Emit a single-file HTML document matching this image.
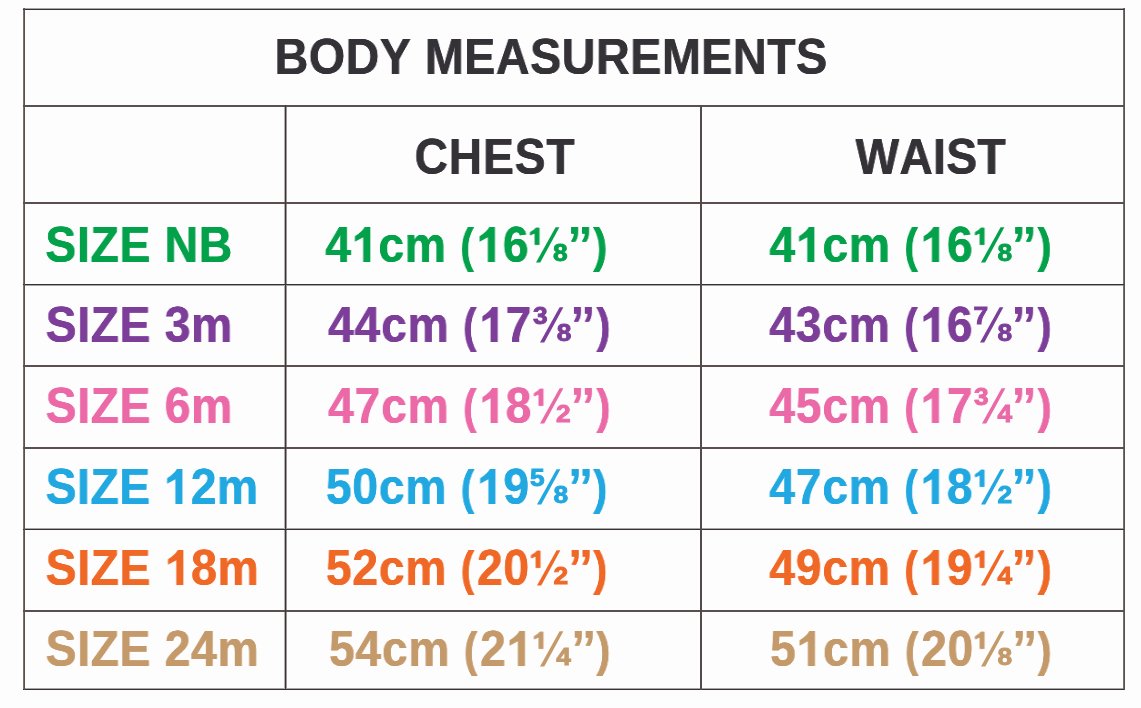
<!DOCTYPE html>
<html><head><meta charset="utf-8"><title>Body Measurements</title><style>
html,body{margin:0;padding:0;}
body{width:1141px;height:708px;background:#fdfdfe;position:relative;overflow:hidden;font-family:"Liberation Sans",sans-serif;font-weight:bold;font-kerning:none;}
.t{position:absolute;white-space:nowrap;line-height:1;transform-origin:0 0;will-change:transform;}
.l{position:absolute;}
.one{position:relative;display:inline-block;}
.one::before,.one::after{content:"";position:absolute;background:#fdfdfe;top:0.70em;height:0.26em;}
.one::before{left:0.03em;width:calc(0.2034em - var(--sw,0px)/2);}
.one::after{left:calc(0.3706em + var(--sw,0px)/2);width:0.2em;}
.ib{display:inline-block;}
.o1{display:inline-block;position:relative;width:calc(0.55615em + var(--ls,0px));height:0.68799em;}
.o1 svg{position:absolute;left:0;bottom:0;width:0.55615em;height:0.68799em;fill:currentColor;overflow:visible;}
.np{-webkit-text-stroke-width:0;}
</style></head><body>

<div class="l" style="left:23px;width:1102px;top:8px;height:1px;background:#aaa6a7"></div>
<div class="l" style="left:23px;width:1102px;top:285px;height:1px;background:#aaa6a7"></div>
<div class="l" style="left:23px;width:1102px;top:528px;height:1px;background:#aaa6a7"></div>
<div class="l" style="left:23px;width:1102px;top:688px;height:1px;background:#aaa6a7"></div>
<div class="l" style="left:23px;width:1px;top:8px;height:682px;background:#7d7170"></div>
<div class="l" style="left:284px;width:1px;top:105px;height:585px;background:#b4aeae"></div>
<div class="l" style="left:286px;width:1px;top:105px;height:585px;background:#9a9494"></div>
<div class="l" style="left:1123px;width:1px;top:8px;height:682px;background:#7a6e6e"></div>
<div class="l" style="left:23px;width:1102px;top:9px;height:1px;background:#353134"></div>
<div class="l" style="left:23px;width:1102px;top:105px;height:1px;background:#5a4f4e"></div>
<div class="l" style="left:23px;width:1102px;top:106px;height:1px;background:#5a4f4e"></div>
<div class="l" style="left:23px;width:1102px;top:202px;height:1px;background:#5a4f4e"></div>
<div class="l" style="left:23px;width:1102px;top:203px;height:1px;background:#5a4f4e"></div>
<div class="l" style="left:23px;width:1102px;top:284px;height:1px;background:#353134"></div>
<div class="l" style="left:23px;width:1102px;top:365px;height:1px;background:#5a4f4e"></div>
<div class="l" style="left:23px;width:1102px;top:366px;height:1px;background:#5a4f4e"></div>
<div class="l" style="left:23px;width:1102px;top:447px;height:1px;background:#5a4f4e"></div>
<div class="l" style="left:23px;width:1102px;top:448px;height:1px;background:#5a4f4e"></div>
<div class="l" style="left:23px;width:1102px;top:529px;height:1px;background:#353134"></div>
<div class="l" style="left:23px;width:1102px;top:610px;height:1px;background:#5a4f4e"></div>
<div class="l" style="left:23px;width:1102px;top:611px;height:1px;background:#5a4f4e"></div>
<div class="l" style="left:23px;width:1102px;top:689px;height:1px;background:#353134"></div>
<div class="l" style="left:24px;width:1px;top:8px;height:682px;background:#5a504e"></div>
<div class="l" style="left:285px;width:1px;top:105px;height:585px;background:#3a3536"></div>
<div class="l" style="left:700px;width:1px;top:105px;height:585px;background:#544a4b"></div>
<div class="l" style="left:701px;width:1px;top:105px;height:585px;background:#544a4b"></div>
<div class="l" style="left:1124px;width:1px;top:8px;height:682px;background:#5a504e"></div>
<div class="t" style="left:274px;top:31.88px;font-size:50.58px;letter-spacing:0.463px;color:#343237;transform:translateX(0.520px) scaleX(0.9250);text-shadow:-0.270px 0 0 #343237,0.270px 0 0 #343237;--sw:0.55px;--ls:0.463px">BODY MEASUREMENTS</div>
<div class="t" style="left:414px;top:131.74px;font-size:50.87px;letter-spacing:0.851px;color:#343237;transform:translateX(0.551px) scaleX(0.9100);text-shadow:-0.275px 0 0 #343237,0.275px 0 0 #343237;--sw:0.55px;--ls:0.851px">CHEST</div>
<div class="t" style="left:855px;top:131.64px;font-size:50.87px;letter-spacing:0.274px;color:#343237;transform:translateX(0.505px) scaleX(0.9100);text-shadow:-0.275px 0 0 #343237,0.275px 0 0 #343237;--sw:0.55px;--ls:0.274px">WAIST</div>
<div class="t" style="left:45px;top:219.84px;font-size:50.87px;letter-spacing:0.790px;color:#04a14b;transform:translateX(0.316px) scaleX(0.9100);text-shadow:-0.275px 0 0 #04a14b,0.275px 0 0 #04a14b;--sw:0.55px;--ls:0.790px">SIZE NB</div>
<div class="t" style="left:45px;top:299.94px;font-size:50.87px;letter-spacing:0.739px;color:#7c3e98;transform:translateX(0.616px) scaleX(0.9100);text-shadow:-0.275px 0 0 #7c3e98,0.275px 0 0 #7c3e98;--sw:0.55px;--ls:0.739px">SIZE 3m</div>
<div class="t" style="left:45px;top:380.74px;font-size:50.87px;letter-spacing:0.739px;color:#ea69a6;transform:translateX(0.616px) scaleX(0.9100);text-shadow:-0.275px 0 0 #ea69a6,0.275px 0 0 #ea69a6;--sw:0.55px;--ls:0.739px">SIZE 6m</div>
<div class="t" style="left:45px;top:461.74px;font-size:50.87px;letter-spacing:0.658px;color:#22a8e0;transform:translateX(0.616px) scaleX(0.9100);text-shadow:-0.275px 0 0 #22a8e0,0.275px 0 0 #22a8e0;--sw:0.55px;--ls:0.658px">SIZE <span class="o1"><svg viewBox="0 0 1139 1409" preserveAspectRatio="none"><path d="M505,1409L505,415L140,598L140,368Q485,176 569,0L820,0L820,1409Z"/></svg></span>2m</div>
<div class="t" style="left:45px;top:542.74px;font-size:50.87px;letter-spacing:0.736px;color:#f06826;transform:translateX(0.616px) scaleX(0.9100);text-shadow:-0.275px 0 0 #f06826,0.275px 0 0 #f06826;--sw:0.55px;--ls:0.736px">SIZE <span class="o1"><svg viewBox="0 0 1139 1409" preserveAspectRatio="none"><path d="M505,1409L505,415L140,598L140,368Q485,176 569,0L820,0L820,1409Z"/></svg></span>8m</div>
<div class="t" style="left:45px;top:623.54px;font-size:50.87px;letter-spacing:0.736px;color:#c59a6b;transform:translateX(0.616px) scaleX(0.9100);text-shadow:-0.275px 0 0 #c59a6b,0.275px 0 0 #c59a6b;--sw:0.55px;--ls:0.736px">SIZE 24m</div>
<div class="t" style="left:325px;top:219.84px;font-size:50.87px;letter-spacing:0.800px;color:#04a14b;transform:translateX(0.349px) scaleX(0.9100);text-shadow:-0.275px 0 0 #04a14b,0.275px 0 0 #04a14b;--sw:0.55px;--ls:0.800px">4<span class="o1"><svg viewBox="0 0 1139 1409" preserveAspectRatio="none"><path d="M505,1409L505,415L140,598L140,368Q485,176 569,0L820,0L820,1409Z"/></svg></span>cm <span class="ib np" style="transform:scale(0.880,0.949);transform-origin:2.534px 39.902px">(</span><span class="o1"><svg viewBox="0 0 1139 1409" preserveAspectRatio="none"><path d="M505,1409L505,415L140,598L140,368Q485,176 569,0L820,0L820,1409Z"/></svg></span>6<span class="ib" style="width:42.590px"></span><span class="ib" style="width:12.088px">’</span>’<span class="ib np" style="transform:translateX(-0.944px) scale(0.920,0.949);transform-origin:14.407px 39.902px">)</span></div>
<div class="t" style="left:528px;top:224.60px;font-size:24.10px;color:#04a14b;transform:translateX(0.583px) scaleX(1.092);-webkit-text-stroke:0.90px #04a14b;--sw:0.9px"><span class="o1"><svg viewBox="0 0 1139 1409" preserveAspectRatio="none"><path d="M505,1409L505,415L140,598L140,368Q485,176 569,0L820,0L820,1409Z" stroke="currentColor" stroke-width="75" stroke-linejoin="miter"/></svg></span></div>
<div class="t" style="left:552px;top:241.30px;font-size:24.10px;color:#04a14b;transform:translateX(0.956px) scaleX(1.092);-webkit-text-stroke:0.90px #04a14b">8</div>
<svg style="position:absolute;left:535.40px;top:225.90px;overflow:visible" width="30" height="40"><polygon points="1.00,36.60 5.25,36.60 24.40,1.20 20.60,1.20" fill="#04a14b"/></svg>
<div class="t" style="left:328px;top:299.84px;font-size:50.87px;letter-spacing:0.800px;color:#7c3e98;transform:translateX(0.149px) scaleX(0.9100);text-shadow:-0.275px 0 0 #7c3e98,0.275px 0 0 #7c3e98;--sw:0.55px;--ls:0.800px">44cm <span class="ib np" style="transform:scale(0.880,0.949);transform-origin:2.534px 39.902px">(</span><span class="o1"><svg viewBox="0 0 1139 1409" preserveAspectRatio="none"><path d="M505,1409L505,415L140,598L140,368Q485,176 569,0L820,0L820,1409Z"/></svg></span>7<span class="ib" style="width:42.590px"></span><span class="ib" style="width:12.088px">’</span>’<span class="ib np" style="transform:translateX(-0.504px) scale(0.920,0.949);transform-origin:14.407px 39.902px">)</span></div>
<div class="t" style="left:532px;top:304.40px;font-size:24.10px;color:#7c3e98;transform:translateX(0.887px) scaleX(1.092);-webkit-text-stroke:0.90px #7c3e98;--sw:0.9px">3</div>
<div class="t" style="left:556px;top:321.30px;font-size:24.10px;color:#7c3e98;transform:translateX(0.856px) scaleX(1.092);-webkit-text-stroke:0.90px #7c3e98">8</div>
<svg style="position:absolute;left:539.10px;top:305.90px;overflow:visible" width="30" height="40"><polygon points="1.00,36.60 5.25,36.60 24.40,1.20 20.60,1.20" fill="#7c3e98"/></svg>
<div class="t" style="left:328px;top:380.74px;font-size:50.87px;letter-spacing:0.800px;color:#ea69a6;transform:translateX(0.149px) scaleX(0.9100);text-shadow:-0.275px 0 0 #ea69a6,0.275px 0 0 #ea69a6;--sw:0.55px;--ls:0.800px">47cm <span class="ib np" style="transform:scale(0.880,0.949);transform-origin:2.534px 39.902px">(</span><span class="o1"><svg viewBox="0 0 1139 1409" preserveAspectRatio="none"><path d="M505,1409L505,415L140,598L140,368Q485,176 569,0L820,0L820,1409Z"/></svg></span>8<span class="ib" style="width:42.590px"></span><span class="ib" style="width:12.088px">’</span>’<span class="ib np" style="transform:translateX(-0.504px) scale(0.920,0.949);transform-origin:14.407px 39.902px">)</span></div>
<div class="t" style="left:532px;top:385.50px;font-size:24.10px;color:#ea69a6;transform:translateX(0.483px) scaleX(1.092);-webkit-text-stroke:0.90px #ea69a6;--sw:0.9px"><span class="o1"><svg viewBox="0 0 1139 1409" preserveAspectRatio="none"><path d="M505,1409L505,415L140,598L140,368Q485,176 569,0L820,0L820,1409Z" stroke="currentColor" stroke-width="75" stroke-linejoin="miter"/></svg></span></div>
<div class="t" style="left:556px;top:402.20px;font-size:24.10px;color:#ea69a6;transform:translateX(0.079px) scaleX(1.092);-webkit-text-stroke:0.90px #ea69a6">2</div>
<svg style="position:absolute;left:539.30px;top:386.80px;overflow:visible" width="30" height="40"><polygon points="1.00,36.60 5.25,36.60 24.40,1.20 20.60,1.20" fill="#ea69a6"/></svg>
<div class="t" style="left:325px;top:461.74px;font-size:50.87px;letter-spacing:0.800px;color:#22a8e0;transform:translateX(0.876px) scaleX(0.9100);text-shadow:-0.275px 0 0 #22a8e0,0.275px 0 0 #22a8e0;--sw:0.55px;--ls:0.800px">50cm <span class="ib np" style="transform:scale(0.880,0.949);transform-origin:2.534px 39.902px">(</span><span class="o1"><svg viewBox="0 0 1139 1409" preserveAspectRatio="none"><path d="M505,1409L505,415L140,598L140,368Q485,176 569,0L820,0L820,1409Z"/></svg></span>9<span class="ib" style="width:42.590px"></span><span class="ib" style="width:12.088px">’</span>’<span class="ib np" style="transform:translateX(-1.303px) scale(0.920,0.949);transform-origin:14.407px 39.902px">)</span></div>
<div class="t" style="left:529px;top:466.30px;font-size:24.10px;color:#22a8e0;transform:translateX(0.882px) scaleX(1.092);-webkit-text-stroke:0.90px #22a8e0;--sw:0.9px">5</div>
<div class="t" style="left:553px;top:483.20px;font-size:24.10px;color:#22a8e0;transform:translateX(0.556px) scaleX(1.092);-webkit-text-stroke:0.90px #22a8e0">8</div>
<svg style="position:absolute;left:536.00px;top:467.80px;overflow:visible" width="30" height="40"><polygon points="1.00,36.60 5.25,36.60 24.40,1.20 20.60,1.20" fill="#22a8e0"/></svg>
<div class="t" style="left:325px;top:542.84px;font-size:50.87px;letter-spacing:0.800px;color:#f06826;transform:translateX(0.876px) scaleX(0.9100);text-shadow:-0.275px 0 0 #f06826,0.275px 0 0 #f06826;--sw:0.55px;--ls:0.800px">52cm <span class="ib np" style="transform:scale(0.880,0.949);transform-origin:2.534px 39.902px">(</span>20<span class="ib" style="width:42.590px"></span><span class="ib" style="width:12.088px">’</span>’<span class="ib np" style="transform:translateX(-1.303px) scale(0.920,0.949);transform-origin:14.407px 39.902px">)</span></div>
<div class="t" style="left:529px;top:547.60px;font-size:24.10px;color:#f06826;transform:translateX(0.583px) scaleX(1.092);-webkit-text-stroke:0.90px #f06826;--sw:0.9px"><span class="o1"><svg viewBox="0 0 1139 1409" preserveAspectRatio="none"><path d="M505,1409L505,415L140,598L140,368Q485,176 569,0L820,0L820,1409Z" stroke="currentColor" stroke-width="75" stroke-linejoin="miter"/></svg></span></div>
<div class="t" style="left:553px;top:564.30px;font-size:24.10px;color:#f06826;transform:translateX(0.479px) scaleX(1.092);-webkit-text-stroke:0.90px #f06826">2</div>
<svg style="position:absolute;left:536.40px;top:548.90px;overflow:visible" width="30" height="40"><polygon points="1.00,36.60 5.25,36.60 24.40,1.20 20.60,1.20" fill="#f06826"/></svg>
<div class="t" style="left:328px;top:623.84px;font-size:50.87px;letter-spacing:0.800px;color:#c59a6b;transform:translateX(0.976px) scaleX(0.9100);text-shadow:-0.275px 0 0 #c59a6b,0.275px 0 0 #c59a6b;--sw:0.55px;--ls:0.800px">54cm <span class="ib np" style="transform:scale(0.880,0.949);transform-origin:2.534px 39.902px">(</span>2<span class="o1"><svg viewBox="0 0 1139 1409" preserveAspectRatio="none"><path d="M505,1409L505,415L140,598L140,368Q485,176 569,0L820,0L820,1409Z"/></svg></span><span class="ib" style="width:42.590px"></span><span class="ib" style="width:12.088px">’</span>’<span class="ib np" style="transform:translateX(-1.413px) scale(0.920,0.949);transform-origin:14.407px 39.902px">)</span></div>
<div class="t" style="left:532px;top:628.60px;font-size:24.10px;color:#c59a6b;transform:translateX(0.483px) scaleX(1.092);-webkit-text-stroke:0.90px #c59a6b;--sw:0.9px"><span class="o1"><svg viewBox="0 0 1139 1409" preserveAspectRatio="none"><path d="M505,1409L505,415L140,598L140,368Q485,176 569,0L820,0L820,1409Z" stroke="currentColor" stroke-width="75" stroke-linejoin="miter"/></svg></span></div>
<div class="t" style="left:556px;top:645.30px;font-size:24.10px;color:#c59a6b;transform:translateX(0.293px) scaleX(1.092);-webkit-text-stroke:0.90px #c59a6b">4</div>
<svg style="position:absolute;left:539.30px;top:629.90px;overflow:visible" width="30" height="40"><polygon points="1.00,36.60 5.25,36.60 24.40,1.20 20.60,1.20" fill="#c59a6b"/></svg>
<div class="t" style="left:769px;top:219.84px;font-size:50.87px;letter-spacing:0.800px;color:#04a14b;transform:translateX(0.449px) scaleX(0.9100);text-shadow:-0.275px 0 0 #04a14b,0.275px 0 0 #04a14b;--sw:0.55px;--ls:0.800px">4<span class="o1"><svg viewBox="0 0 1139 1409" preserveAspectRatio="none"><path d="M505,1409L505,415L140,598L140,368Q485,176 569,0L820,0L820,1409Z"/></svg></span>cm <span class="ib np" style="transform:scale(0.880,0.949);transform-origin:2.534px 39.902px">(</span><span class="o1"><svg viewBox="0 0 1139 1409" preserveAspectRatio="none"><path d="M505,1409L505,415L140,598L140,368Q485,176 569,0L820,0L820,1409Z"/></svg></span>6<span class="ib" style="width:42.590px"></span><span class="ib" style="width:12.088px">’</span>’<span class="ib np" style="transform:translateX(-0.614px) scale(0.920,0.949);transform-origin:14.407px 39.902px">)</span></div>
<div class="t" style="left:973px;top:224.60px;font-size:24.10px;color:#04a14b;transform:translateX(0.583px) scaleX(1.092);-webkit-text-stroke:0.90px #04a14b;--sw:0.9px"><span class="o1"><svg viewBox="0 0 1139 1409" preserveAspectRatio="none"><path d="M505,1409L505,415L140,598L140,368Q485,176 569,0L820,0L820,1409Z" stroke="currentColor" stroke-width="75" stroke-linejoin="miter"/></svg></span></div>
<div class="t" style="left:997px;top:241.30px;font-size:24.10px;color:#04a14b;transform:translateX(0.556px) scaleX(1.092);-webkit-text-stroke:0.90px #04a14b">8</div>
<svg style="position:absolute;left:980.40px;top:225.90px;overflow:visible" width="30" height="40"><polygon points="1.00,36.60 5.25,36.60 24.40,1.20 20.60,1.20" fill="#04a14b"/></svg>
<div class="t" style="left:769px;top:299.84px;font-size:50.87px;letter-spacing:0.800px;color:#7c3e98;transform:translateX(0.299px) scaleX(0.9100);text-shadow:-0.275px 0 0 #7c3e98,0.275px 0 0 #7c3e98;--sw:0.55px;--ls:0.800px">43cm <span class="ib np" style="transform:scale(0.880,0.949);transform-origin:2.534px 39.902px">(</span><span class="o1"><svg viewBox="0 0 1139 1409" preserveAspectRatio="none"><path d="M505,1409L505,415L140,598L140,368Q485,176 569,0L820,0L820,1409Z"/></svg></span>6<span class="ib" style="width:42.590px"></span><span class="ib" style="width:12.088px">’</span>’<span class="ib np" style="transform:translateX(-0.450px) scale(0.920,0.949);transform-origin:14.407px 39.902px">)</span></div>
<div class="t" style="left:973px;top:304.40px;font-size:24.10px;color:#7c3e98;transform:translateX(0.561px) scaleX(1.092);-webkit-text-stroke:0.90px #7c3e98;--sw:0.9px">7</div>
<div class="t" style="left:997px;top:321.30px;font-size:24.10px;color:#7c3e98;transform:translateX(0.556px) scaleX(1.092);-webkit-text-stroke:0.90px #7c3e98">8</div>
<svg style="position:absolute;left:979.40px;top:305.90px;overflow:visible" width="30" height="40"><polygon points="1.00,36.60 5.25,36.60 24.40,1.20 20.60,1.20" fill="#7c3e98"/></svg>
<div class="t" style="left:769px;top:380.74px;font-size:50.87px;letter-spacing:0.800px;color:#ea69a6;transform:translateX(0.349px) scaleX(0.9100);text-shadow:-0.275px 0 0 #ea69a6,0.275px 0 0 #ea69a6;--sw:0.55px;--ls:0.800px">45cm <span class="ib np" style="transform:scale(0.880,0.949);transform-origin:2.534px 39.902px">(</span><span class="o1"><svg viewBox="0 0 1139 1409" preserveAspectRatio="none"><path d="M505,1409L505,415L140,598L140,368Q485,176 569,0L820,0L820,1409Z"/></svg></span>7<span class="ib" style="width:42.590px"></span><span class="ib" style="width:12.088px">’</span>’<span class="ib np" style="transform:translateX(-0.504px) scale(0.920,0.949);transform-origin:14.407px 39.902px">)</span></div>
<div class="t" style="left:974px;top:385.30px;font-size:24.10px;color:#ea69a6;transform:translateX(0.087px) scaleX(1.092);-webkit-text-stroke:0.90px #ea69a6;--sw:0.9px">3</div>
<div class="t" style="left:997px;top:402.20px;font-size:24.10px;color:#ea69a6;transform:translateX(0.393px) scaleX(1.092);-webkit-text-stroke:0.90px #ea69a6">4</div>
<svg style="position:absolute;left:981.00px;top:386.80px;overflow:visible" width="30" height="40"><polygon points="1.00,36.60 5.25,36.60 24.40,1.20 20.60,1.20" fill="#ea69a6"/></svg>
<div class="t" style="left:769px;top:461.74px;font-size:50.87px;letter-spacing:0.800px;color:#22a8e0;transform:translateX(0.349px) scaleX(0.9100);text-shadow:-0.275px 0 0 #22a8e0,0.275px 0 0 #22a8e0;--sw:0.55px;--ls:0.800px">47cm <span class="ib np" style="transform:scale(0.880,0.949);transform-origin:2.534px 39.902px">(</span><span class="o1"><svg viewBox="0 0 1139 1409" preserveAspectRatio="none"><path d="M505,1409L505,415L140,598L140,368Q485,176 569,0L820,0L820,1409Z"/></svg></span>8<span class="ib" style="width:42.590px"></span><span class="ib" style="width:12.088px">’</span>’<span class="ib np" style="transform:translateX(-0.504px) scale(0.920,0.949);transform-origin:14.407px 39.902px">)</span></div>
<div class="t" style="left:973px;top:466.50px;font-size:24.10px;color:#22a8e0;transform:translateX(0.583px) scaleX(1.092);-webkit-text-stroke:0.90px #22a8e0;--sw:0.9px"><span class="o1"><svg viewBox="0 0 1139 1409" preserveAspectRatio="none"><path d="M505,1409L505,415L140,598L140,368Q485,176 569,0L820,0L820,1409Z" stroke="currentColor" stroke-width="75" stroke-linejoin="miter"/></svg></span></div>
<div class="t" style="left:997px;top:483.20px;font-size:24.10px;color:#22a8e0;transform:translateX(0.479px) scaleX(1.092);-webkit-text-stroke:0.90px #22a8e0">2</div>
<svg style="position:absolute;left:980.40px;top:467.80px;overflow:visible" width="30" height="40"><polygon points="1.00,36.60 5.25,36.60 24.40,1.20 20.60,1.20" fill="#22a8e0"/></svg>
<div class="t" style="left:769px;top:542.84px;font-size:50.87px;letter-spacing:0.800px;color:#f06826;transform:translateX(0.349px) scaleX(0.9100);text-shadow:-0.275px 0 0 #f06826,0.275px 0 0 #f06826;--sw:0.55px;--ls:0.800px">49cm <span class="ib np" style="transform:scale(0.880,0.949);transform-origin:2.534px 39.902px">(</span><span class="o1"><svg viewBox="0 0 1139 1409" preserveAspectRatio="none"><path d="M505,1409L505,415L140,598L140,368Q485,176 569,0L820,0L820,1409Z"/></svg></span>9<span class="ib" style="width:42.590px"></span><span class="ib" style="width:12.088px">’</span>’<span class="ib np" style="transform:translateX(-0.504px) scale(0.920,0.949);transform-origin:14.407px 39.902px">)</span></div>
<div class="t" style="left:973px;top:547.60px;font-size:24.10px;color:#f06826;transform:translateX(0.583px) scaleX(1.092);-webkit-text-stroke:0.90px #f06826;--sw:0.9px"><span class="o1"><svg viewBox="0 0 1139 1409" preserveAspectRatio="none"><path d="M505,1409L505,415L140,598L140,368Q485,176 569,0L820,0L820,1409Z" stroke="currentColor" stroke-width="75" stroke-linejoin="miter"/></svg></span></div>
<div class="t" style="left:997px;top:564.30px;font-size:24.10px;color:#f06826;transform:translateX(0.393px) scaleX(1.092);-webkit-text-stroke:0.90px #f06826">4</div>
<svg style="position:absolute;left:980.40px;top:548.90px;overflow:visible" width="30" height="40"><polygon points="1.00,36.60 5.25,36.60 24.40,1.20 20.60,1.20" fill="#f06826"/></svg>
<div class="t" style="left:770px;top:623.84px;font-size:50.87px;letter-spacing:0.800px;color:#c59a6b;transform:translateX(0.026px) scaleX(0.9100);text-shadow:-0.275px 0 0 #c59a6b,0.275px 0 0 #c59a6b;--sw:0.55px;--ls:0.800px">5<span class="o1"><svg viewBox="0 0 1139 1409" preserveAspectRatio="none"><path d="M505,1409L505,415L140,598L140,368Q485,176 569,0L820,0L820,1409Z"/></svg></span>cm <span class="ib np" style="transform:scale(0.880,0.949);transform-origin:2.534px 39.902px">(</span>20<span class="ib" style="width:42.590px"></span><span class="ib" style="width:12.088px">’</span>’<span class="ib np" style="transform:translateX(-1.248px) scale(0.920,0.949);transform-origin:14.407px 39.902px">)</span></div>
<div class="t" style="left:973px;top:628.60px;font-size:24.10px;color:#c59a6b;transform:translateX(0.583px) scaleX(1.092);-webkit-text-stroke:0.90px #c59a6b;--sw:0.9px"><span class="o1"><svg viewBox="0 0 1139 1409" preserveAspectRatio="none"><path d="M505,1409L505,415L140,598L140,368Q485,176 569,0L820,0L820,1409Z" stroke="currentColor" stroke-width="75" stroke-linejoin="miter"/></svg></span></div>
<div class="t" style="left:997px;top:645.30px;font-size:24.10px;color:#c59a6b;transform:translateX(0.556px) scaleX(1.092);-webkit-text-stroke:0.90px #c59a6b">8</div>
<svg style="position:absolute;left:980.40px;top:629.90px;overflow:visible" width="30" height="40"><polygon points="1.00,36.60 5.25,36.60 24.40,1.20 20.60,1.20" fill="#c59a6b"/></svg>
</body></html>
